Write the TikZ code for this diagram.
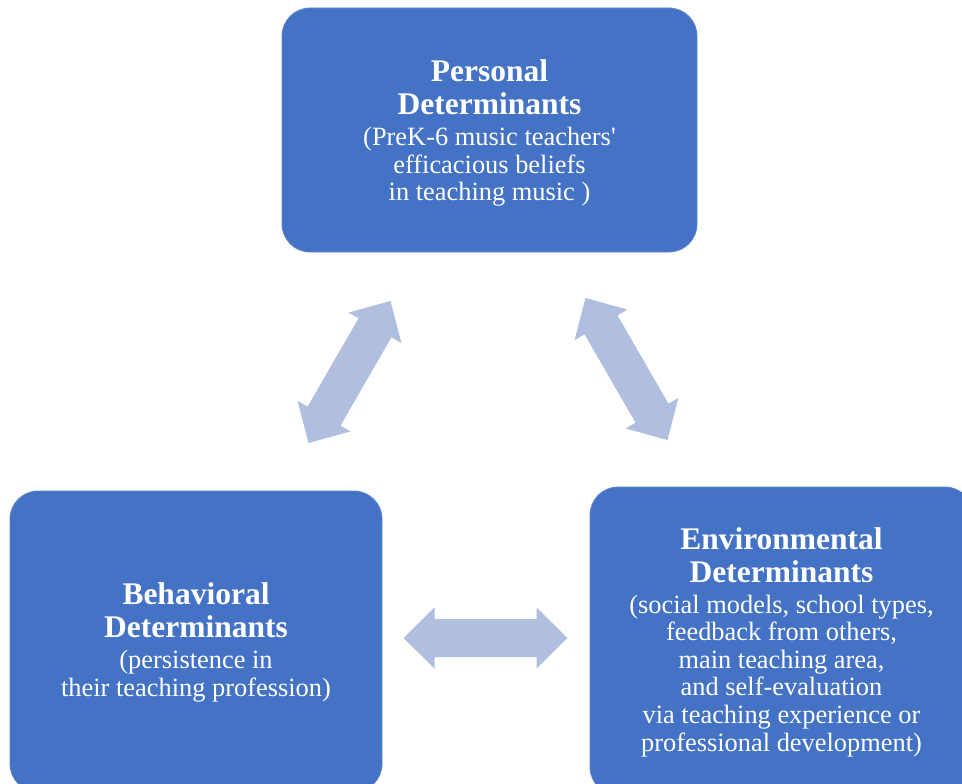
\documentclass[tikz,border=0pt]{standalone}
\usepackage{fontspec}
\setmainfont{Liberation Serif}
\definecolor{boxblue}{HTML}{4472C4}
\definecolor{arrowblue}{HTML}{B0BEDF}
\newcommand{\headfont}{\fontsize{31.5}{33}\bfseries\selectfont}
\newcommand{\bodyfont}{\fontsize{26.4}{27.6}\mdseries\selectfont}
% centred block: optional top gap, two heading lines, then the description
\newcommand{\detext}[4][0pt]{%
  \begin{minipage}{#2}\centering
    \vspace*{#1}%
    \headfont #3\par\vspace{3.5pt}%
    \bodyfont #4\par
  \end{minipage}}
\tikzset{
  detbox/.style={fill=boxblue, draw=boxblue!85!white, line width=0.8pt,
    rounded corners=28pt, text=white, inner sep=0pt},
  % wide two-headed block arrow, 164 long, drawn along its local x axis
  dblarrow/.pic={
    \fill[arrowblue] (-82,0) -- (-51,30.5) -- (-51,19) -- (51,19) -- (51,30.5)
      -- (82,0) -- (51,-30.5) -- (51,-19) -- (-51,-19) -- (-51,-30.5) -- cycle;
  }
}
\begin{document}
\begin{tikzpicture}[x=1pt, y=-1pt]
\clip (0,0) rectangle (962,784);
\fill[white] (0,0) rectangle (962,784);

% the three determinants
\node[detbox, minimum width=415pt, minimum height=244pt] (personal) at (489.5,130)
  {\detext[6pt]{400pt}{Personal\\Determinants}
    {(PreK-6 music teachers\textquotesingle\\efficacious beliefs\\in teaching music )}};
\node[detbox, minimum width=372pt, minimum height=301pt] (behavioral) at (196,641.5)
  {\detext[2pt]{360pt}{Behavioral\\Determinants}
    {(persistence in\\their teaching profession)}};
\node[detbox, minimum width=383pt, minimum height=308pt] (environmental) at (781.5,641)
  {\detext[2pt]{375pt}{Environmental\\Determinants}
    {(social models, school types,\\feedback from others,\\main teaching area,\\and self-evaluation\\via teaching experience or\\professional development)}};

% reciprocal influences between them
\pic[rotate=60] at (349.5,372) {dblarrow};
\pic[rotate=-60] at (626.5,369) {dblarrow};
\pic at (485.5,638) {dblarrow};
\end{tikzpicture}
\end{document}
